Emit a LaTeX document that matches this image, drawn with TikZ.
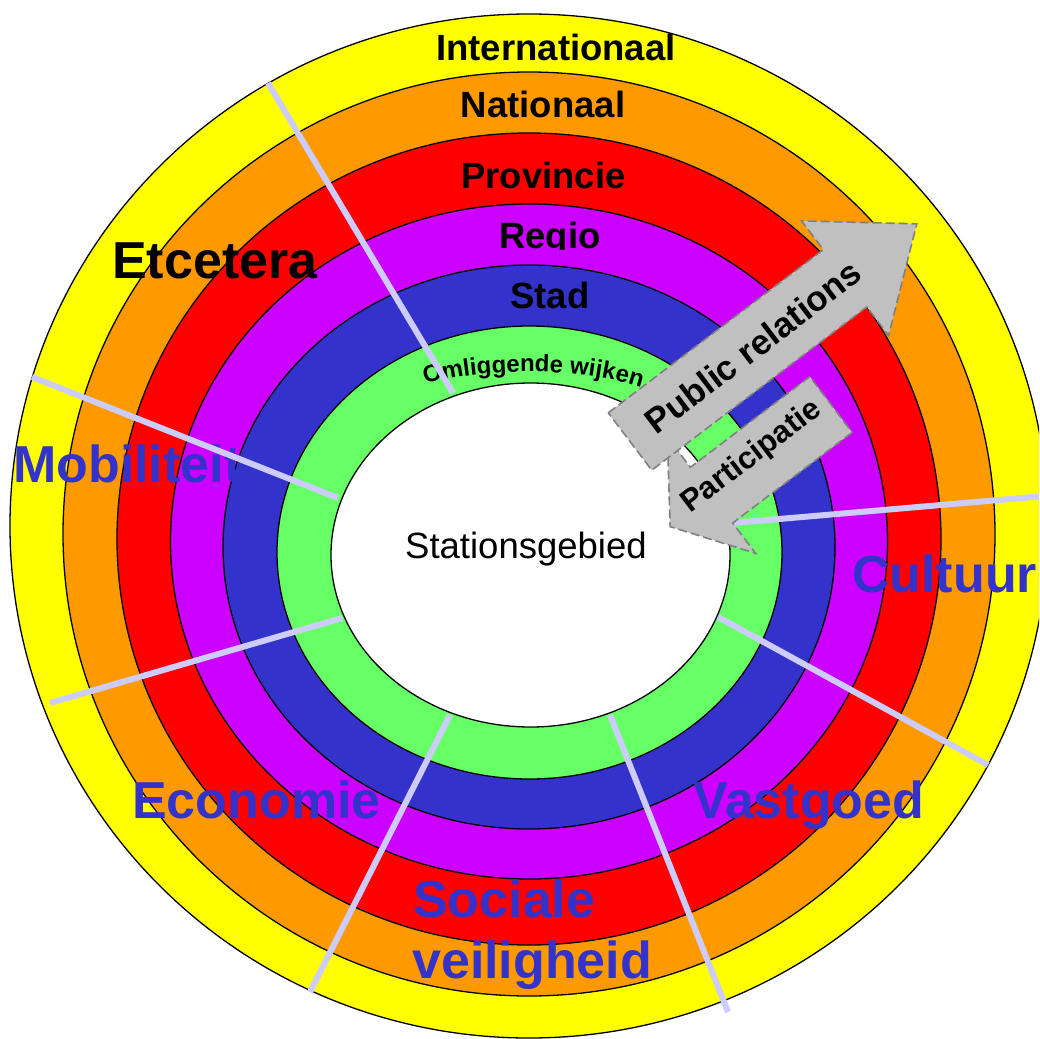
\documentclass[tikz,border=0pt]{standalone}
\usepackage{fontspec}
\setmainfont{Liberation Sans}
\usetikzlibrary{decorations.text}

\definecolor{geel}{HTML}{FFFF00}
\definecolor{oranje}{HTML}{FF9900}
\definecolor{rood}{HTML}{FF0000}
\definecolor{paars}{HTML}{CC00FF}
\definecolor{blauw}{HTML}{3333CC}
\definecolor{groen}{HTML}{66FF66}
\definecolor{lijn}{HTML}{CCCCFF}
\definecolor{pijl}{HTML}{C0C0C0}
\definecolor{pijlrand}{HTML}{808080}

\tikzset{
    ring/.style={draw=black, line width=1.3pt},
    niveau/.style={anchor=base, inner sep=0pt, font=\bfseries\fontsize{36.5}{40}\selectfont},
    thema/.style={anchor=base west, inner sep=0pt, text=blauw, font=\bfseries\fontsize{52}{60}\selectfont},
    grens/.style={draw=lijn, line width=6pt},
    blokpijl/.style={fill=pijl, draw=pijlrand, line width=1.6pt, dash pattern=on 9pt off 4pt},
    pijltekst/.style={inner sep=0pt, rotate=37.2, font=\bfseries\fontsize{#1}{#1}\selectfont},
}

\begin{document}
\begin{tikzpicture}[x=1pt, y=-1pt]

    \useasboundingbox (0,0) rectangle (1039,1039);
    \clip (0,0) rectangle (1039,1039);

    % ---------- ringen met niveau (boven) ----------
    \foreach \kl/\cy/\rx/\ry/\lx/\ly/\lbl in {
        geel/526/519/512/556/60/Internationaal,
        oranje/534/466/462/543/117/Nationaal,
        rood/539/412/406/543.5/188/Provincie,
        paars/541.5/358.5/337.5/550/248/Regio,
        blauw/547/306/282/550/308/Stad
    }{
        \filldraw[fill=\kl, ring] (529,\cy) ellipse [x radius=\rx pt, y radius=\ry pt];
        \begin{scope}
            \clip (0,0) rectangle (1039,\ly+1.5);
            \node[niveau] (niv-\lbl) at (\lx,\ly) {\lbl};
        \end{scope}
    }

    % omliggende wijken + stationsgebied
    \filldraw[fill=groen, ring] (529.5,552.5) ellipse [x radius=252.5pt, y radius=226.5pt];
    \filldraw[fill=white, ring] (530.5,555) ellipse [x radius=199.5pt, y radius=172pt];
    \path[decorate, decoration={text along path, text align=center,
        text={|\bfseries\fontsize{24}{24}\selectfont|Omliggende wijken}}]
        (412,388) .. controls (476,366) and (592,366) .. (654,392);
    \node[anchor=base west, inner sep=0pt, font=\fontsize{36.5}{40}\selectfont] (station) at (405,558) {Stationsgebied};

    % ---------- thema's ----------
    \node[thema, text=black] (etc) at (112,278) {Etcetera};
    \node[thema] (mob) at (13,482) {Mobiliteit};
    \node[thema] (cul) at (852,592) {Cultuur};
    \node[thema] (eco) at (132,818) {Economie};
    \node[thema] (vas) at (693,818) {Vastgoed};
    \node[thema] (soc) at (413,917) {Sociale};
    \node[thema] (vei) at (412,978) {veiligheid};

    % ---------- grenslijnen tussen de thema's ----------
    \foreach \xa/\ya/\xb/\yb in {
        268/83/453/393,
        32/377/338/498,
        50/703/342/618,
        310/992/450/715,
        610/715/728/1012,
        718/617/988/765,
        733/523/1045/496
    }{
        \draw[grens] (\xa,\ya) -- (\xb,\yb);
    }

    % ---------- pijlen ----------
    \begin{scope}[shift={(831,404.5)}, rotate=217.2]
        \draw[blokpijl] (0,-35) -- (150,-35) -- (150,-73) -- (202,0)
            -- (150,73) -- (150,35) -- (0,35) -- cycle;
    \end{scope}
    \node[pijltekst=31] (part) at (752,457) {Participatie};

    \begin{scope}[shift={(630,441.5)}, rotate=37.2]
        \draw[blokpijl] (0,-36) -- (270,-36) -- (270,-72) -- (360,0)
            -- (270,72) -- (270,36) -- (0,36) -- cycle;
    \end{scope}
    \node[pijltekst=35] (pr) at (753,347) {Public relations};

\end{tikzpicture}
\end{document}
